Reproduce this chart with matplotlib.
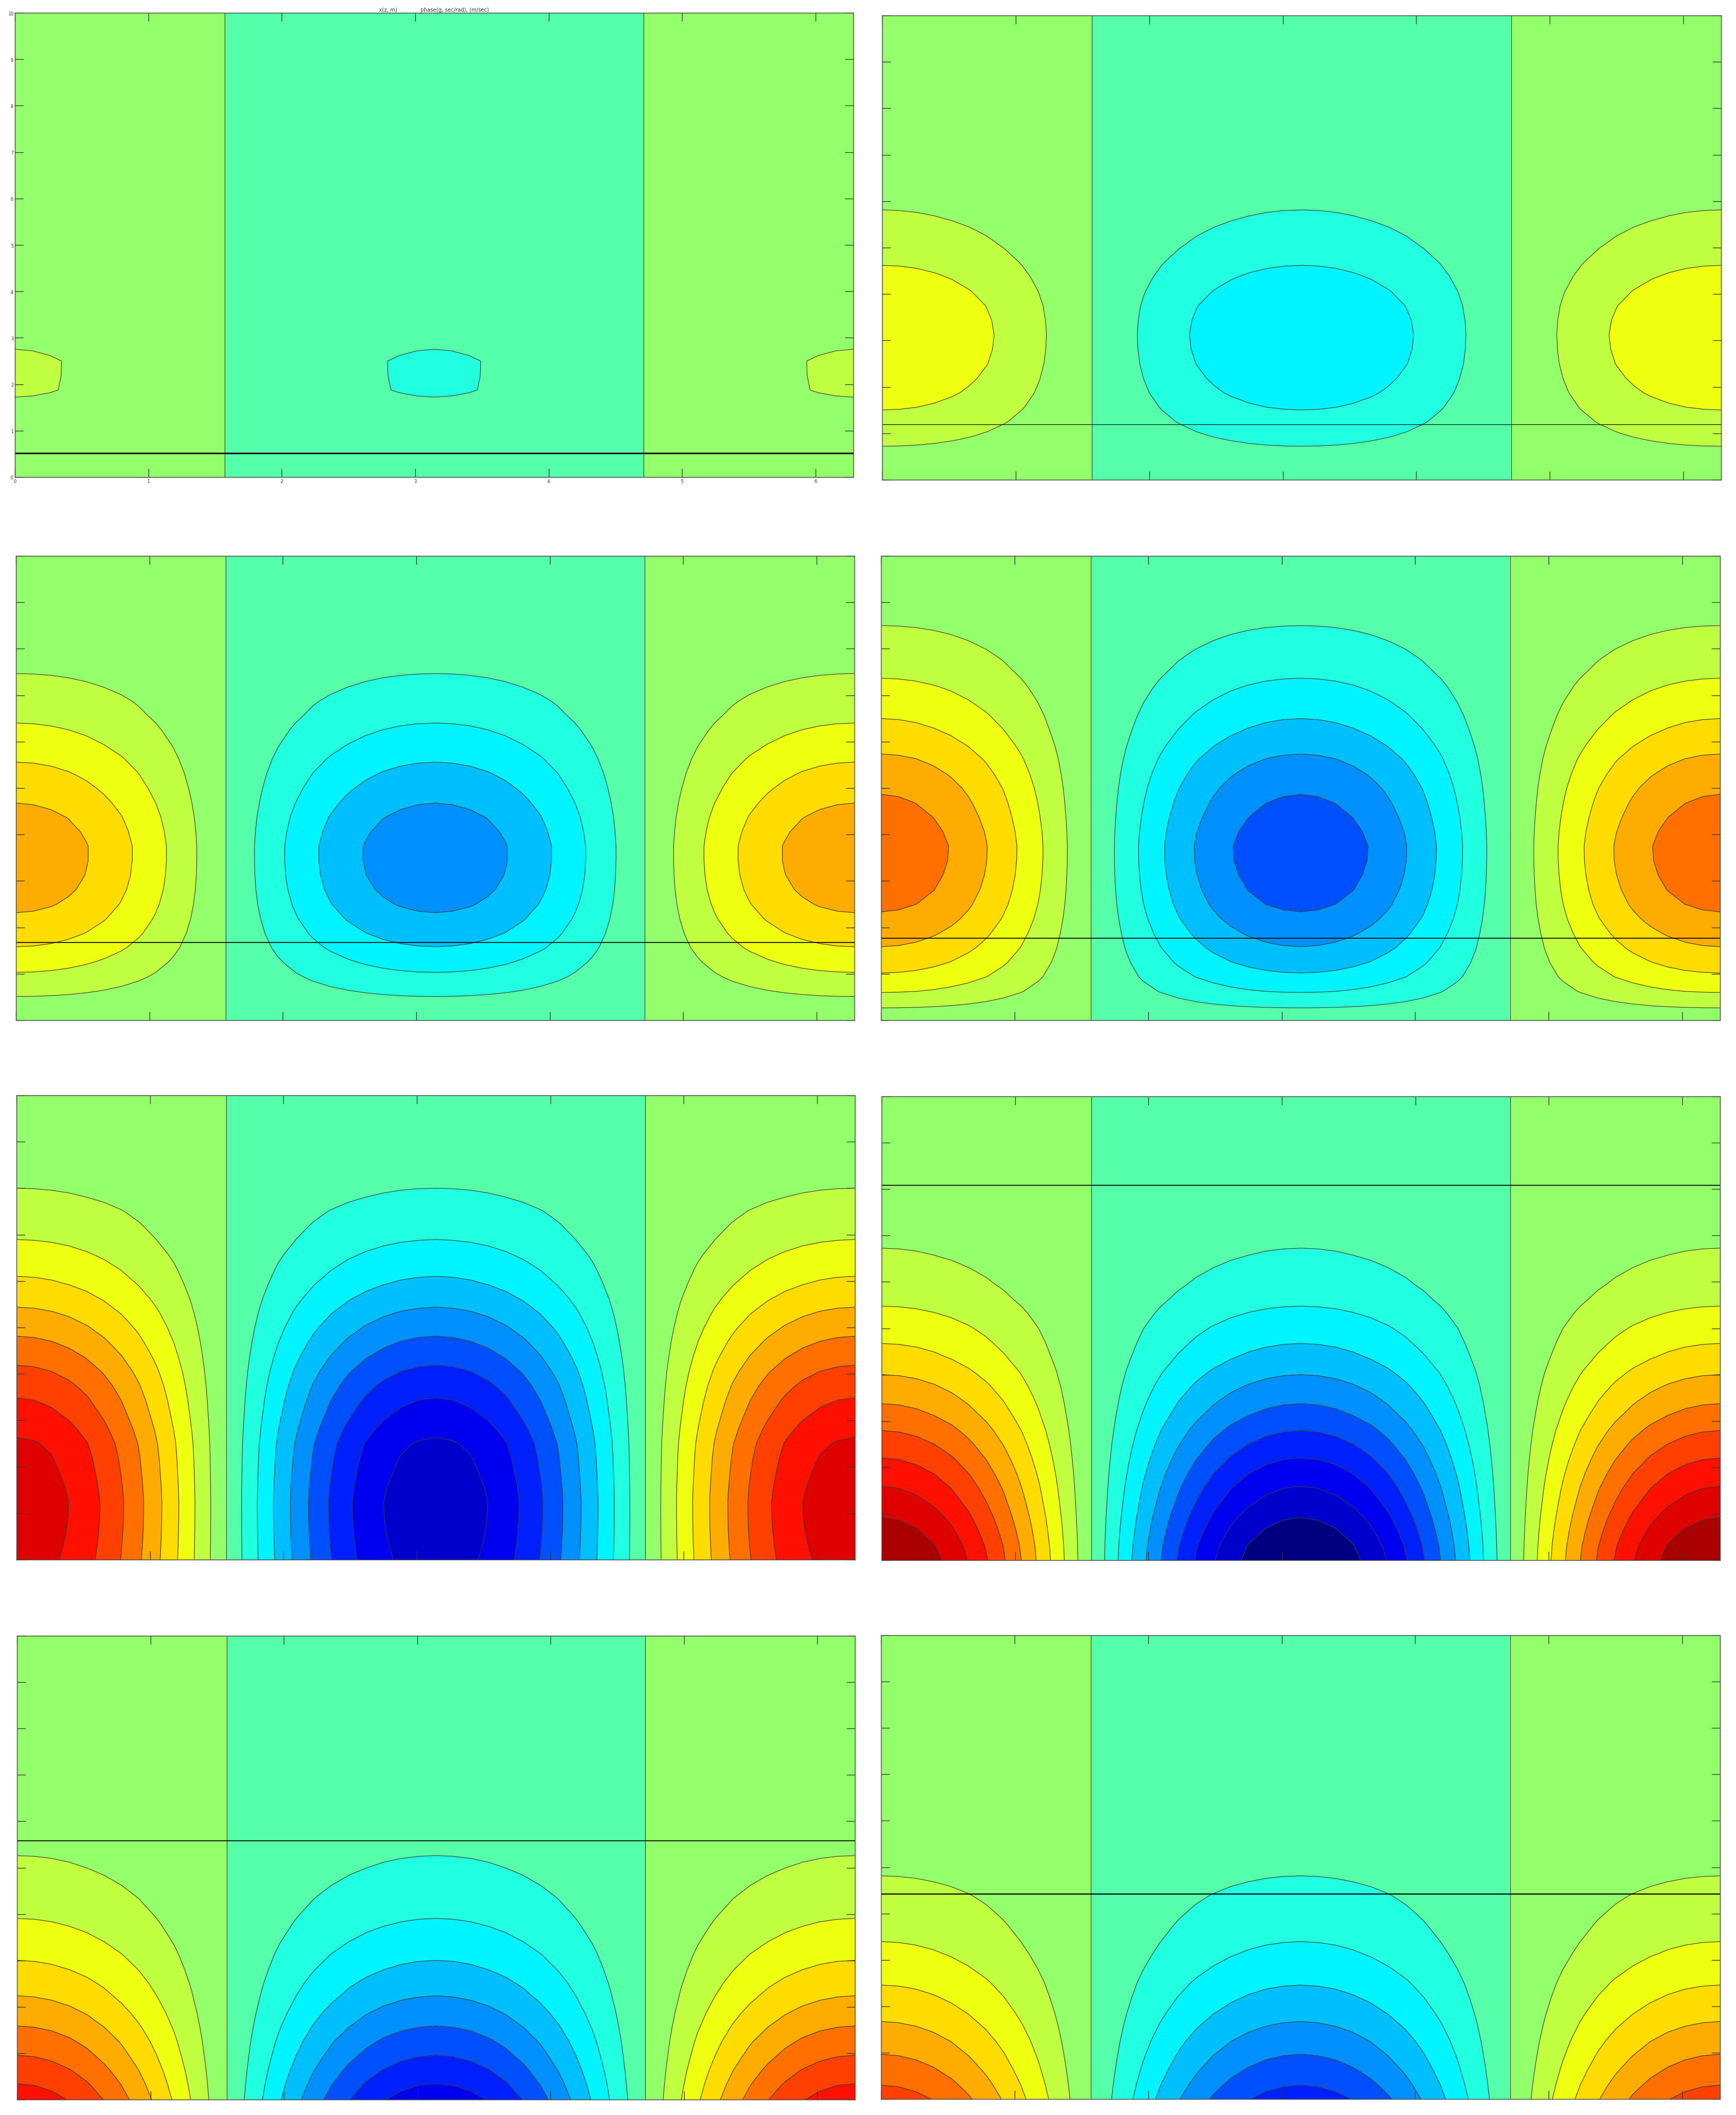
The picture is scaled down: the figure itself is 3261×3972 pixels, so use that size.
import matplotlib
matplotlib.use('Agg')
import matplotlib.pyplot as plt
import numpy as np

W, H = 3261, 3973

################################################################################
# DATA
################################################################################
# mesh columns, radians
x_nodes = [0.0, 0.131, 0.262, 0.393, 0.524, 0.654, 0.785, 0.916, 1.047, 1.178, 1.309, 1.44, 1.571,
           1.702, 1.833, 1.963, 2.094, 2.225, 2.356, 2.487, 2.618, 2.749, 2.88, 3.011, 3.142,
           3.272, 3.403, 3.534, 3.665, 3.796, 3.927, 4.058, 4.189, 4.32, 4.451, 4.581, 4.712,
           4.843, 4.974, 5.105, 5.236, 5.367, 5.498, 5.629, 5.76, 5.89, 6.021, 6.152, 6.283]
# how the field changes across a row (left edge = 1)
x_shape = [1.0, 0.991, 0.966, 0.924, 0.866, 0.793, 0.707, 0.609, 0.5, 0.383, 0.259, 0.131, 0.0,
           -0.131, -0.259, -0.383, -0.5, -0.609, -0.707, -0.793, -0.866, -0.924, -0.966, -0.991, -1.0,
           -0.991, -0.966, -0.924, -0.866, -0.793, -0.707, -0.609, -0.5, -0.383, -0.259, -0.131, 0.0,
           0.131, 0.259, 0.383, 0.5, 0.609, 0.707, 0.793, 0.866, 0.924, 0.966, 0.991, 1.0]
# mesh rows
y_nodes = [0.0, 0.3125, 0.625, 0.9375, 1.25, 1.5625, 1.875, 2.1875, 2.5, 2.8125, 3.125, 3.4375, 3.75, 4.0625,
           4.375, 4.6875, 5.0, 5.3125, 5.625, 5.9375, 6.25, 6.5625, 6.875, 7.1875, 7.5, 7.8125,
           8.125, 8.4375, 8.75, 9.0625, 9.375, 9.6875, 10.0]

# field value along the left edge, one list per panel
panel_1 = [0.01, 0.22, 0.42, 0.62, 0.79, 0.94, 1.057, 1.065, 1.066, 0.985, 0.907, 0.81, 0.72, 0.63, 0.55, 0.47, 0.4,
           0.35, 0.3, 0.25, 0.2, 0.17, 0.15, 0.12, 0.1, 0.085, 0.07, 0.055, 0.04, 0.03, 0.02, 0.015, 0.01]
panel_2 = [0.01, 0.44, 0.87, 1.29, 1.7, 2.07, 2.4, 2.65, 2.85, 2.96, 3.0, 2.94, 2.8, 2.55, 2.25, 1.93, 1.62,
           1.36, 1.12, 0.92, 0.75, 0.62, 0.5, 0.41, 0.33, 0.26, 0.2, 0.16, 0.12, 0.09, 0.06, 0.03, 0.01]
panel_3 = [0.01, 0.62, 1.22, 1.83, 2.4, 2.97, 3.45, 3.86, 4.2, 4.45, 4.6, 4.67, 4.67, 4.52, 4.3, 3.99, 3.65,
           3.3, 2.92, 2.53, 2.17, 1.82, 1.55, 1.25, 0.97, 0.77, 0.62, 0.48, 0.36, 0.26, 0.17, 0.09, 0.01]
panel_4 = [0.15, 1.15, 2.08, 2.85, 3.44, 3.97, 4.42, 4.84, 5.18, 5.43, 5.6, 5.7, 5.72, 5.6, 5.4, 5.16, 4.88,
           4.53, 4.15, 3.72, 3.3, 2.92, 2.55, 2.2, 1.85, 1.57, 1.3, 1.05, 0.8, 0.6, 0.42, 0.25, 0.1]
panel_5 = [8.44, 8.53, 8.6, 8.64, 8.65, 8.57, 8.45, 8.32, 8.14, 7.8, 7.42, 7.06, 6.66, 6.2, 5.7, 5.2, 4.7,
           4.2, 3.7, 3.22, 2.8, 2.4, 2.02, 1.72, 1.45, 1.15, 0.9, 0.68, 0.5, 0.34, 0.22, 0.1, 0.01]
panel_6 = [10.0, 9.78, 9.4, 8.98, 8.5, 8.05, 7.55, 7.03, 6.5, 5.97, 5.4, 4.9, 4.4, 3.9, 3.4, 2.98, 2.6,
           2.2, 1.82, 1.53, 1.3, 1.09, 0.92, 0.73, 0.58, 0.45, 0.35, 0.27, 0.2, 0.13, 0.08, 0.04, 0.01]
panel_7 = [7.52, 7.05, 6.55, 6.03, 5.55, 5.04, 4.55, 4.07, 3.65, 3.23, 2.85, 2.48, 2.15, 1.85, 1.6, 1.36, 1.15,
           0.97, 0.82, 0.67, 0.55, 0.44, 0.36, 0.28, 0.22, 0.17, 0.13, 0.1, 0.07, 0.05, 0.03, 0.02, 0.01]
panel_8 = [6.45, 5.98, 5.5, 5.04, 4.6, 4.15, 3.72, 3.32, 2.95, 2.58, 2.25, 1.96, 1.72, 1.5, 1.3, 1.08, 0.88,
           0.72, 0.58, 0.47, 0.38, 0.3, 0.24, 0.19, 0.15, 0.12, 0.09, 0.07, 0.05, 0.03, 0.02, 0.015, 0.01]
panels = [panel_1, panel_2, panel_3, panel_4, panel_5, panel_6, panel_7, panel_8]

# height of the horizontal black line in each panel (none in panel 5)
line_y = [0.52, 1.19, 1.67, 1.77, None, 8.08, 5.58, 4.42]

levels = [-10, -9, -8, -7, -6, -5, -4, -3, -2, -1, 0, 1, 2, 3, 4, 5, 6, 7, 8, 9, 10]
band_colors = ['#000080', '#0000CC', '#0000F0', '#0020FF', '#0050FF', '#0090FF', '#00BFFF', '#00F4FF', '#20FFDF', '#55FFAA',
               '#93FF6B', '#BFFF3F', '#EFFF10', '#FFDC00', '#FFAC00', '#FF7000', '#FF4000', '#FF1000', '#DF0000', '#AA0000']

x_ticks = [0, 1, 2, 3, 4, 5, 6]
y_ticks = [0, 1, 2, 3, 4, 5, 6, 7, 8, 9, 10]

# frames in pixels: left, right, top, bottom
frames = [(28, 1603, 25, 897), (1657, 3233, 30, 902),
          (30, 1605, 1045, 1917), (1655, 3231, 1045, 1917),
          (31, 1606, 2058, 2930), (1656, 3231, 2060, 2931),
          (32, 1606, 3073, 3944), (1655, 3231, 3072, 3943)]
line_widths = [2.0, 0.8, 1.2, 1.2, 0, 1.2, 1.2, 1.5]

################################################################################
# PLOT
################################################################################
fig = plt.figure(figsize=(W / 100, H / 100), dpi=100)

for i, (left, right, top, bottom) in enumerate(frames):
    ax = fig.add_axes([left / W, 1 - bottom / H, (right - left) / W, (bottom - top) / H])
    field = np.outer(panels[i], x_shape)

    ax.contourf(x_nodes, y_nodes, field, levels=levels, colors=band_colors)
    ax.contour(x_nodes, y_nodes, field, levels=levels, colors='#3a3a3a', linewidths=0.8, linestyles='solid')

    if line_y[i] is not None:
        ax.axhline(line_y[i], color='black', linewidth=line_widths[i])

    ax.set_xlim(0, 6.283)
    ax.set_ylim(0, 10)
    ax.set_xticks(x_ticks)
    ax.set_yticks(y_ticks)
    ax.tick_params(direction='in', length=11.5, width=0.9, color='#333333', top=True, right=True, pad=2)
    for spine in ax.spines.values():
        spine.set_linewidth(1.0)
        spine.set_color('#444444')

    if i == 0:
        ax.tick_params(labelsize=6, labelcolor='#333333')
        ax.set_title('x(z, m)              phase(g, sec/rad), (m/sec)', fontsize=7, color='#333333', pad=2)
    else:
        ax.tick_params(labelbottom=False, labelleft=False)

fig.savefig('out.png', dpi=100)
